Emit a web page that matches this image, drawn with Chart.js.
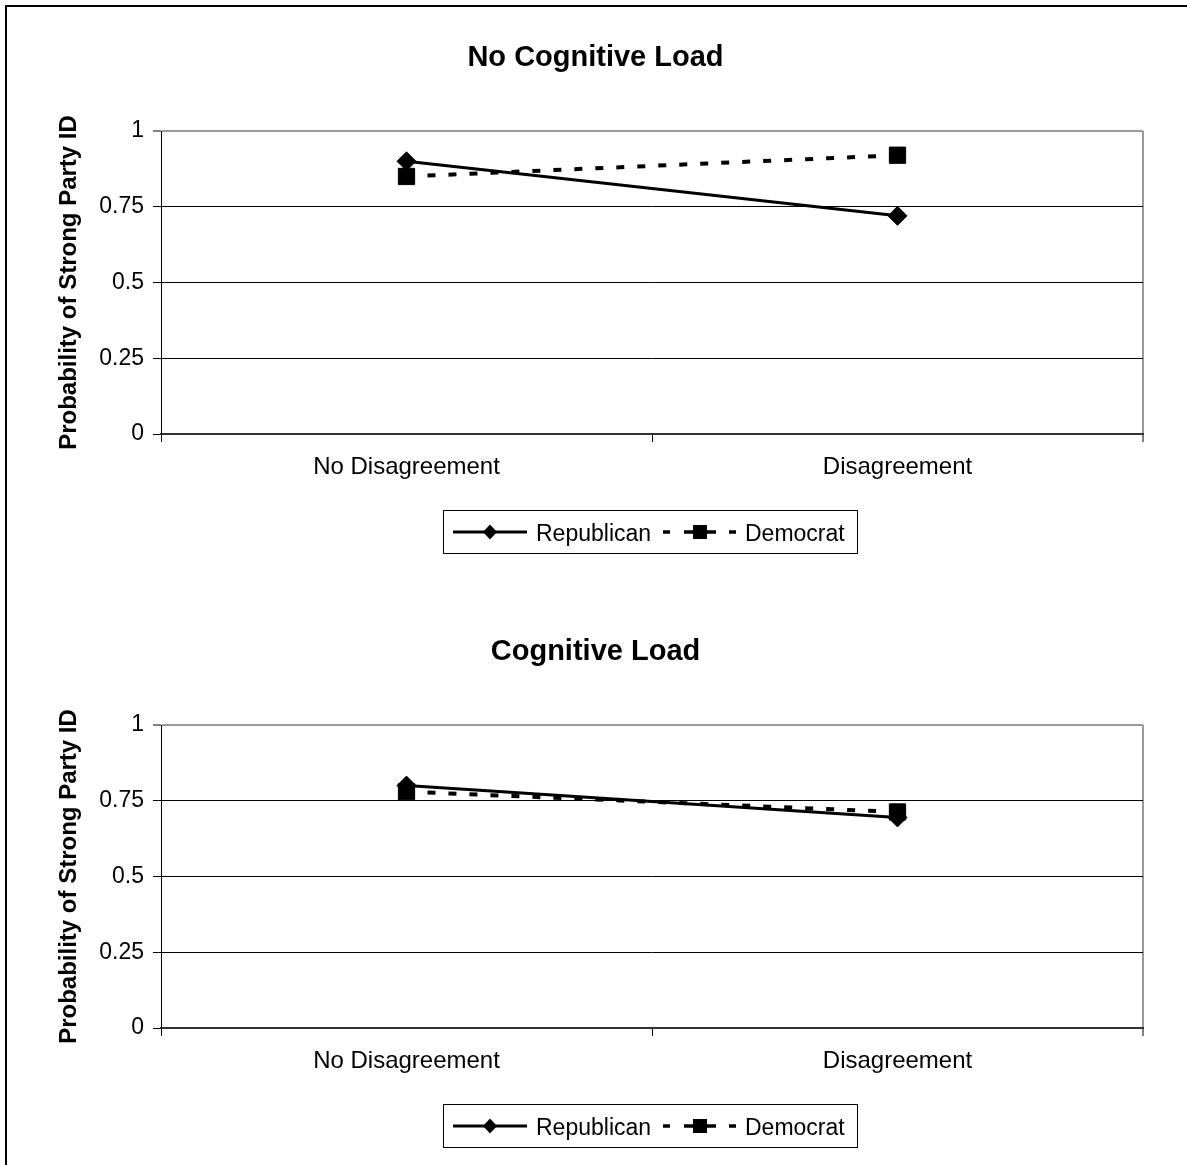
<!DOCTYPE html>
<html>
<head>
<meta charset="utf-8">
<style>
html,body{margin:0;padding:0;background:#fff;width:1187px;height:1165px;overflow:hidden}
#frame{position:absolute;left:5px;top:5px;width:1182px;height:1160px;border-left:2px solid #000;border-top:2px solid #000;box-sizing:border-box}
canvas{position:absolute;left:0}
#c1{top:0}
#c2{top:594px}
</style>
<script src="https://cdn.jsdelivr.net/npm/chart.js@4"></script>
</head>
<body>
<div id="frame"></div>
<canvas id="c1" width="1187" height="594"></canvas>
<canvas id="c2" width="1187" height="571"></canvas>
<script>
// ---- data ----
const categories = ['No Disagreement', 'Disagreement'];
const seriesNames = ['Republican', 'Democrat'];
const chartTitles = ['No Cognitive Load', 'Cognitive Load'];
const yAxisTitle = 'Probability of Strong Party ID';
const yTicks = [0, 0.25, 0.5, 0.75, 1];
const yTickLabels = ['0', '0.25', '0.5', '0.75', '1'];
const noLoadRepublican = [0.90, 0.72];
const noLoadDemocrat = [0.85, 0.92];
const loadRepublican = [0.80, 0.695];
const loadDemocrat = [0.78, 0.713];

const FONT = '"Liberation Sans", Arial, Helvetica, sans-serif';
Chart.defaults.font.family = FONT;
Chart.defaults.color = '#000';

const PLOT_TOP = 131, PLOT_BOTTOM = 434, PLOT_RIGHT = 1143, PLOT_LEFT = 161;

function decor(titleText) {
  return {
    id: 'decor',
    afterDraw(chart) {
      const ctx = chart.ctx;
      const ca = chart.chartArea;
      const ds = chart.data.datasets;
      ctx.save();
      ctx.fillStyle = '#000';
      ctx.font = 'bold 29px ' + FONT;
      ctx.textAlign = 'center';
      ctx.textBaseline = 'alphabetic';
      ctx.fillText(titleText, chart.width / 2 + 2, 66);

      // legend
      const cx = (ca.left + ca.right) / 2;
      const L = Math.round(cx - 209), T = 510;
      ctx.lineWidth = 1;
      ctx.strokeStyle = '#000';
      ctx.strokeRect(L + 0.5, T + 0.5, 414, 43);
      const ly = T + 22;
      // Republican sample
      ctx.lineWidth = 3;
      ctx.beginPath(); ctx.moveTo(L + 10, ly); ctx.lineTo(L + 84, ly); ctx.stroke();
      ctx.beginPath();
      const dx = L + 47;
      ctx.moveTo(dx - 7, ly); ctx.lineTo(dx, ly - 7.5); ctx.lineTo(dx + 7, ly); ctx.lineTo(dx, ly + 7.5); ctx.closePath();
      ctx.fill();
      ctx.font = '23px ' + FONT;
      ctx.textAlign = 'left';
      ctx.fillText(ds[0].label, L + 93, T + 31);
      // Democrat sample
      ctx.lineWidth = 3.5;
      const segs = [[220, 227], [241, 273], [286, 293]];
      segs.forEach(s => { ctx.beginPath(); ctx.moveTo(L + s[0], ly); ctx.lineTo(L + s[1], ly); ctx.stroke(); });
      ctx.fillRect(L + 257 - 7, ly - 7, 14, 14);
      ctx.fillText(ds[1].label, L + 302, T + 31);
      ctx.restore();
    }
  };
}

function makeChart(id, titleText, rep, dem) {
  const canvas = document.getElementById(id);
  return new Chart(canvas, {
    type: 'line',
    data: {
      labels: categories,
      datasets: [
        {
          label: seriesNames[0], data: rep, order: 1,
          borderColor: '#000', backgroundColor: '#000', borderWidth: 3,
          pointStyle: 'rectRot', pointRadius: 9.5, pointBorderWidth: 1,
          pointBackgroundColor: '#000', pointBorderColor: '#000', tension: 0, fill: false
        },
        {
          label: seriesNames[1], data: dem, order: 0,
          borderColor: '#000', backgroundColor: '#000', borderWidth: 4, borderDash: [8, 13],
          pointStyle: 'rect', pointRadius: 11.5, pointBorderWidth: 1,
          pointBackgroundColor: '#000', pointBorderColor: '#000', tension: 0, fill: false
        }
      ]
    },
    options: {
      responsive: false,
      animation: false,
      devicePixelRatio: 1,
      layout: { padding: { top: PLOT_TOP, right: 1187 - PLOT_RIGHT, bottom: 0, left: 0 } },
      plugins: { legend: { display: false }, title: { display: false }, tooltip: { enabled: false } },
      scales: {
        x: {
          type: 'category',
          offset: true,
          afterFit(scale) { scale.height = scale.chart.height - PLOT_BOTTOM; },
          grid: {
            offset: true,
            drawOnChartArea: true,
            color: c => (c.type === 'scale' ? '#999' : 'rgba(0,0,0,0)'),
            lineWidth: c => (c.type === 'scale' ? 2 : 1),
            tickColor: '#000', tickWidth: 1, tickLength: 8, drawTicks: true
          },
          border: { display: true, color: '#333', width: 2 },
          ticks: { font: { size: 24 }, color: '#000', padding: 11, maxRotation: 0, autoSkip: false }
        },
        y: {
          min: 0, max: 1,
          afterFit(scale) { scale.width = PLOT_LEFT; },
          afterBuildTicks(scale) { scale.ticks = yTicks.map(v => ({ value: v })); },
          grid: {
            color: c => (c.tick && c.tick.value === 1 ? '#999' : '#000'),
            lineWidth: c => (c.tick && c.tick.value === 1 ? 2 : 1),
            tickColor: '#000', tickWidth: 1, tickLength: 8, drawTicks: true
          },
          border: { display: true, color: '#000', width: 1 },
          ticks: {
            font: { size: 23 }, color: '#000', padding: 9,
            callback: (v) => { const i = yTicks.indexOf(v); return i >= 0 ? yTickLabels[i] : String(v); }
          },
          title: {
            display: true, text: yAxisTitle, color: '#000',
            font: { size: 24, weight: 'bold' }, padding: { top: 55, bottom: 0 }
          }
        }
      }
    },
    plugins: [decor(titleText)]
  });
}

makeChart('c1', chartTitles[0], noLoadRepublican, noLoadDemocrat);
makeChart('c2', chartTitles[1], loadRepublican, loadDemocrat);
</script>
</body>
</html>
